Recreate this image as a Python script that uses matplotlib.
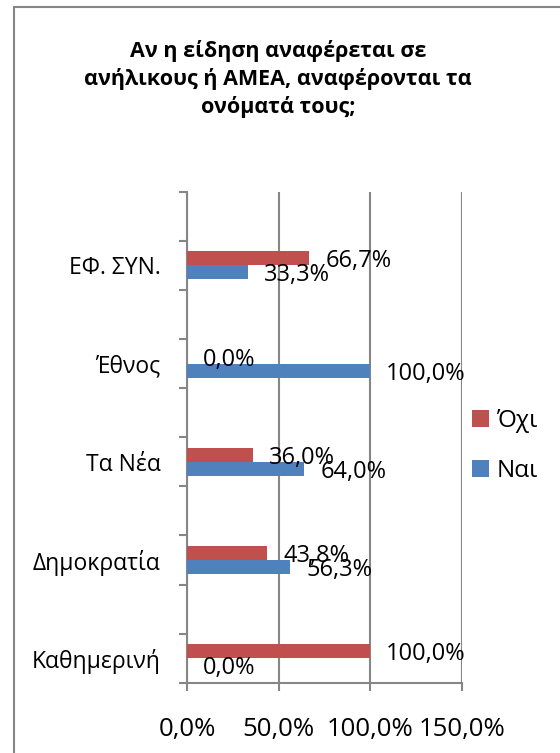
import matplotlib as mpl
mpl.use("Agg")
import matplotlib.pyplot as plt
from matplotlib.patches import Rectangle


# Excel-style sheet: blank rows between the papers give the empty slots
categories = ["Καθημερινή", "", "Δημοκρατία", "", "Τα Νέα", "",
              "Έθνος", "", "ΕΦ. ΣΥΝ.", ""]
ochi = [100.0, None, 43.8, None, 36.0, None, 0.0, None, 66.7, None]
nai = [0.0, None, 56.3, None, 64.0, None, 100.0, None, 33.3, None]
xticks = [0, 50, 100, 150]

TITLE = "Αν η είδηση αναφέρεται σε\nανήλικους ή ΑΜΕΑ, αναφέρονται τα\nονόματά τους;"

RED = "#C0504D"
BLUE = "#4F81BD"
GRID = "#868686"

W, H = 560, 753
DPI = 100

plt.rcParams.update({
    "font.family": ["Open Sans", "DejaVu Sans"],
    "text.color": "black",
})

fig = plt.figure(figsize=(W / DPI, H / DPI), dpi=DPI)
ax = fig.add_axes([187 / W, 1 - 682.7 / H, (461.7 - 187) / W, (682.7 - 191.7) / H])

idx = [i for i, c in enumerate(categories) if c]
bar_h = 0.285
off = bar_h / 2

ax.barh([i + off for i in idx], [ochi[i] for i in idx], height=bar_h,
        color=RED, label="Όχι", zorder=3)
ax.barh([i - off for i in idx], [nai[i] for i in idx], height=bar_h,
        color=BLUE, label="Ναι", zorder=3)

for i in idx:
    for val, y in ((ochi[i], i + off), (nai[i], i - off)):
        ax.annotate(f"{val:.1f}%".replace(".", ","), (val, y),
                    xytext=(16, -3), textcoords="offset pixels",
                    ha="left", va="center", fontsize=17, zorder=4)

ax.set_xlim(0, 150)
ax.set_ylim(-0.5, len(categories) - 0.5)

ax.set_xticks(xticks)
ax.set_xticklabels([f"{t:.1f}%".replace(".", ",") for t in xticks])
ax.tick_params(axis="x", direction="out", length=6, width=1.5, color=GRID,
               labelsize=18.5, pad=19)

ax.set_yticks([k - 0.5 for k in range(len(categories) + 1)])
ax.set_yticklabels([])
ax.set_yticks(idx, minor=True)
ax.set_yticklabels([categories[i] for i in idx], minor=True)
ax.tick_params(axis="y", which="major", direction="out", length=6, width=1.5,
               color=GRID)
ax.tick_params(axis="y", which="minor", length=0, labelsize=16.5, pad=19)

ax.grid(axis="x", color=GRID, linewidth=1.5, zorder=0)
for side in ("top", "right"):
    ax.spines[side].set_visible(False)
for side in ("left", "bottom"):
    ax.spines[side].set_color(GRID)
    ax.spines[side].set_linewidth(1.5)

handles, labels = ax.get_legend_handles_labels()
fig.legend(handles, labels, loc="center left",
           bbox_to_anchor=(472 / W, 1 - 446 / H), frameon=False,
           fontsize=17.5, handlelength=0.7, handleheight=0.7,
           handletextpad=0.3, labelspacing=1.1, borderpad=0,
           borderaxespad=0)

fig.text(278 / W, 1 - 79 / H, TITLE, ha="center", va="center",
         fontsize=15.5, fontweight="bold", linespacing=1.35)

fig.patches.append(Rectangle((13.5 / W, -0.1), 1.0, 1 - 7 / H + 0.1,
                             transform=fig.transFigure, fill=False,
                             edgecolor=GRID, linewidth=1.5))

fig.savefig("out.png", dpi=DPI)
